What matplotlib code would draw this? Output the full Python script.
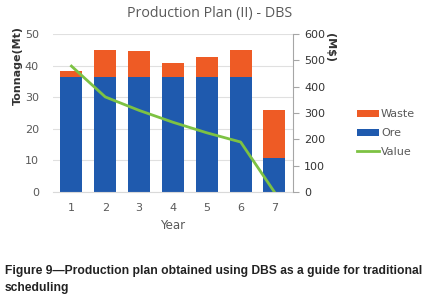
import numpy as np
import matplotlib.pyplot as plt

# data
years = ['1', '2', '3', '4', '5', '6', '7']
ore = [36.3, 36.3, 36.3, 36.3, 36.3, 36.3, 10.8]
waste = [2.0, 8.7, 8.3, 4.5, 6.4, 8.7, 15.2]
value = [478, 361, 310, 265, 225, 190, 0]

c_waste = '#EE5B25'
c_ore = '#1F5AAE'
c_value = '#7DC243'
c_text = '#595959'

fig = plt.figure(figsize=(4.26, 3.03), dpi=100)
ax1 = fig.add_axes([0.124, 0.366, 0.564, 0.522])
ax2 = ax1.twinx()

x = np.arange(len(years))
b_ore = ax1.bar(x, ore, width=0.65, color=c_ore, zorder=2)
b_waste = ax1.bar(x, waste, width=0.65, bottom=ore, color=c_waste, zorder=2)
l_val, = ax2.plot(x, value, color=c_value, lw=2, zorder=3)

ax1.set_xlim(-0.55, 6.55)
ax1.set_ylim(0, 50)
ax1.set_yticks([0, 10, 20, 30, 40, 50])
ax2.set_ylim(0, 600)
ax2.set_yticks([0, 100, 200, 300, 400, 500, 600])
ax1.set_xticks(x)
ax1.set_xticklabels(years)

ax1.grid(axis='y', color='#E0E0E0', lw=0.8, zorder=0)
for s in ['top', 'left', 'right']:
    ax1.spines[s].set_visible(False)
ax1.spines['bottom'].set_color('#D9D9D9')
for s in ['top', 'left', 'bottom']:
    ax2.spines[s].set_visible(False)
ax2.spines['right'].set_color('#A6A6A6')

ax1.tick_params(axis='both', length=0, labelsize=8, labelcolor=c_text, pad=8)
ax1.tick_params(axis='y', pad=10)
ax2.tick_params(axis='y', length=4, color='#A6A6A6', labelsize=8, labelcolor='#333333', pad=4)

ax1.set_xlabel('Year', fontsize=8.5, color=c_text, labelpad=4)
ax1.set_ylabel('Tonnage(Mt)', fontsize=8, fontweight='bold', color='#333333')
ax1.yaxis.set_label_coords(-0.125, 0.8)
fig.text(0.775, 0.842, '(M$)', rotation=270, fontsize=8, fontweight='bold',
         color='#333333', ha='center', va='center')

fig.text(0.493, 0.957, 'Production Plan (II) - DBS', fontsize=10.3, color=c_text,
         ha='center', va='center', family='Open Sans')

ax2.legend([b_waste, b_ore, l_val], ['Waste', 'Ore', 'Value'],
           loc='center left', bbox_to_anchor=(1.225, 0.373), frameon=False,
           fontsize=8, labelcolor=c_text, handlelength=2.0, handleheight=0.6,
           labelspacing=0.8, handletextpad=0.15)

fig.text(0.012, 0.077, 'Figure 9\u2014Production plan obtained using DBS as a guide for traditional\nscheduling',
         fontsize=8.7, fontweight='bold', family='Liberation Sans', color='#222222',
         ha='left', va='center', linespacing=1.55)

plt.savefig('out.png', dpi=100)
